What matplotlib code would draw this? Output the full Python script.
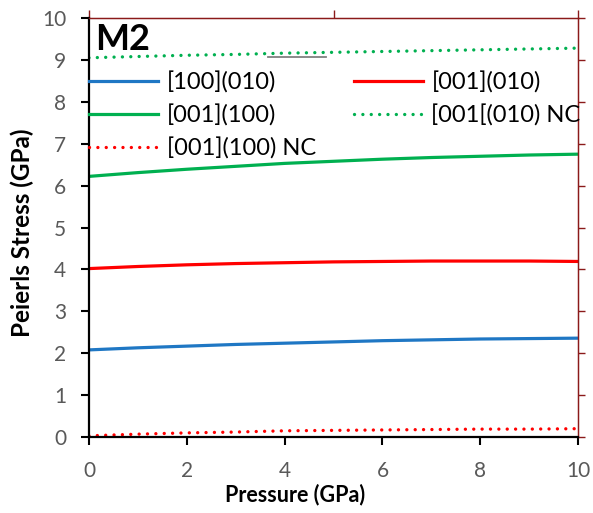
import matplotlib.pyplot as plt
import numpy as np

pressure = [0, 1, 2, 3, 4, 5, 6, 7, 8, 9, 10]
s_100_010 = [2.08, 2.13, 2.17, 2.21, 2.24, 2.27, 2.30, 2.32, 2.34, 2.35, 2.36]
s_001_010 = [4.02, 4.07, 4.11, 4.14, 4.16, 4.18, 4.19, 4.20, 4.20, 4.20, 4.19]
s_001_100 = [6.22, 6.31, 6.39, 6.46, 6.53, 6.58, 6.63, 6.67, 6.70, 6.73, 6.75]
s_001_010_nc = [9.05, 9.08, 9.11, 9.13, 9.16, 9.18, 9.20, 9.22, 9.24, 9.26, 9.28]
s_001_100_nc = [0.03, 0.07, 0.10, 0.12, 0.15, 0.16, 0.17, 0.18, 0.19, 0.19, 0.20]

labels = ["[100](010)", "[001](100)", "[001](100) NC", "[001](010)", "[001[(010) NC"]

BLUE = "#1f77c4"
RED = "#ff0000"
GREEN = "#00b050"
DARKRED = "#8b1a1a"
GRAY = "#595959"

plt.rcParams["font.family"] = ["Lato", "DejaVu Sans"]

fig, ax = plt.subplots(figsize=(5.93, 5.13), dpi=100)
fig.subplots_adjust(left=0.15, right=0.975, top=0.965, bottom=0.148)

dot = (0, (0.01, 2.5))
h1, = ax.plot(pressure, s_100_010, color=BLUE, lw=2.3)
h4, = ax.plot(pressure, s_001_010, color=RED, lw=2.3)
h2, = ax.plot(pressure, s_001_100, color=GREEN, lw=2.3)
h5, = ax.plot(pressure, s_001_010_nc, color=GREEN, lw=2.4, linestyle=dot, dash_capstyle="round")
h3, = ax.plot(pressure, s_001_100_nc, color=RED, lw=2.4, linestyle=dot, dash_capstyle="round")

# stray grey stroke in the original image
ax.plot([3.65, 4.85], [9.07, 9.07], color="#808080", lw=1.3)

ax.set_xlim(0, 10)
ax.set_ylim(0, 10)
ax.set_xticks(np.arange(0, 11, 2))
ax.set_yticks(np.arange(0, 11, 1))
ax.tick_params(axis="both", direction="out", length=5.5, width=1.5, color="black",
               labelsize=15, labelcolor=GRAY)
ax.tick_params(axis="y", pad=11)
ax.tick_params(axis="x", pad=12)

for side in ("left", "bottom"):
    ax.spines[side].set_color("black")
    ax.spines[side].set_linewidth(1.6)
for side in ("top", "right"):
    ax.spines[side].set_color(DARKRED)
    ax.spines[side].set_linewidth(1.0)

top = ax.secondary_xaxis("top")
top.set_xticks([0, 5, 10])
top.set_xticklabels([])
top.tick_params(direction="out", length=6, width=1.0, color=DARKRED)
top.spines["top"].set_color(DARKRED)
right = ax.secondary_yaxis("right")
right.set_yticks(np.arange(0, 11, 1))
right.set_yticklabels([])
right.tick_params(direction="out", length=5, width=1.0, color=DARKRED)
right.spines["right"].set_color(DARKRED)

ax.set_xlabel("Pressure (GPa)", fontsize=15.5, fontweight="bold")
ax.set_ylabel("Peierls Stress (GPa)", fontsize=17.5, fontweight="bold")
ax.xaxis.set_label_coords(0.421, -0.112)
ax.yaxis.set_label_coords(-0.112, 0.487)

ax.text(0.012, 0.988, "M2", transform=ax.transAxes, fontsize=26, fontweight="bold",
        ha="left", va="top")

ax.legend([h1, h2, h3, h4, h5], labels, ncol=2, frameon=False, fontsize=17,
          loc="upper left", bbox_to_anchor=(-0.02, 0.895), handlelength=2.95,
          handletextpad=0.35, columnspacing=1.6, labelspacing=0.47, borderaxespad=0)

fig.savefig("out.png", dpi=100)
